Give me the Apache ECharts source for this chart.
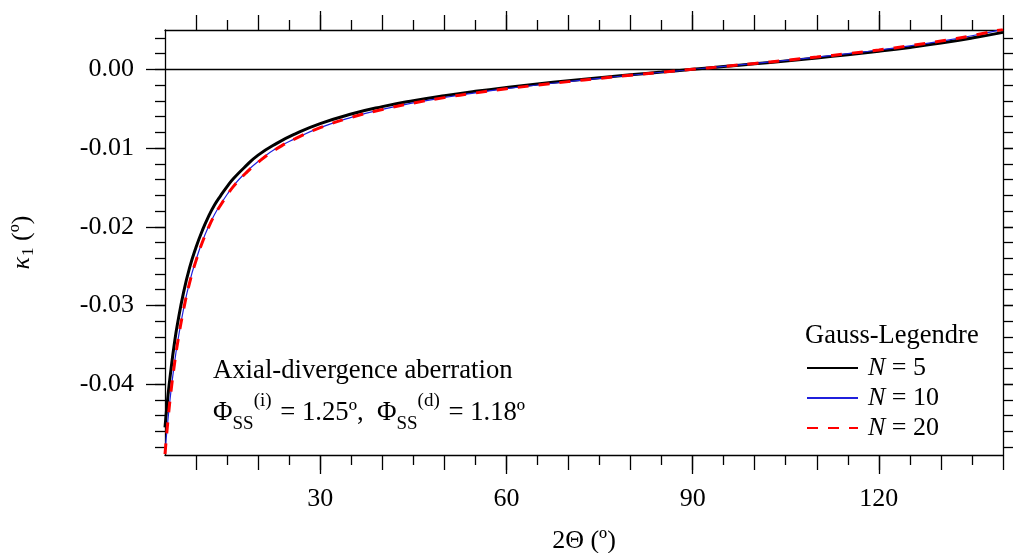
<!DOCTYPE html>
<html>
<head>
<meta charset="utf-8">
<script src="https://cdn.jsdelivr.net/npm/echarts@6/dist/echarts.min.js"></script>
<style>html,body{margin:0;padding:0;background:#fff}#c{width:1013px;height:553px}</style>
</head>
<body>
<div id="c"></div>
<script>
// Data
const twoTheta = [5,5.5,6,6.5,7,8,9,10,11,12,13,14,15,16,18,20,23,26,30,35,40,45,50,55,60,65,70,75,80,85,90,95,100,105,110,115,120,125,130,135,140];
const kappaN5  = [-0.0455,-0.0413,-0.0379,-0.0349,-0.0324,-0.0283,-0.0251,-0.0226,-0.0205,-0.0187,-0.0172,-0.0160,-0.0149,-0.0139,-0.0123,-0.0109,-0.0094,-0.0082,-0.00690,-0.00568,-0.00474,-0.00398,-0.00334,-0.00279,-0.00230,-0.00186,-0.00145,-0.00107,-0.00070,-0.00035,0,0.00035,0.00070,0.00107,0.00145,0.00186,0.00230,0.00279,0.00334,0.00398,0.00470];
const kappaN10 = [-0.0487,-0.0443,-0.0406,-0.0375,-0.0348,-0.0304,-0.0269,-0.0242,-0.0219,-0.0200,-0.0184,-0.0171,-0.0159,-0.0148,-0.0131,-0.0117,-0.0100,-0.0088,-0.00740,-0.00610,-0.00509,-0.00427,-0.00358,-0.00299,-0.00246,-0.00199,-0.00155,-0.00114,-0.00075,-0.00037,0,0.00037,0.00075,0.00114,0.00155,0.00199,0.00246,0.00299,0.00358,0.00427,0.00508];
const kappaN20 = [-0.0489,-0.0444,-0.0407,-0.0376,-0.0349,-0.0305,-0.0270,-0.0243,-0.0220,-0.0201,-0.0185,-0.0172,-0.0160,-0.0149,-0.0132,-0.0118,-0.0101,-0.0088,-0.00741,-0.00611,-0.00510,-0.00428,-0.00359,-0.00300,-0.00247,-0.00200,-0.00156,-0.00115,-0.00075,-0.00037,0,0.00037,0.00075,0.00115,0.00156,0.00200,0.00247,0.00300,0.00359,0.00428,0.00510];
const seriesNames = ['N = 5','N = 10','N = 20'];
const xTickLabels = [30,60,90,120];
const yTickLabels = [0,-0.01,-0.02,-0.03,-0.04];
const xMin = 5, xMax = 140, yMin = -0.049, yMax = 0.005;

const FONT = '"Liberation Serif","Times New Roman",serif';
const FS = 26;

function range(a, b, step) { const r = []; for (let v = a; v <= b + 1e-9; v += step) r.push(Math.round(v * 1e6) / 1e6); return r; }
const xTens = range(10, 140, 10);
const xFives = range(15, 135, 10);
const yMinor = range(-0.048, 0.004, 0.002);

function xAx(pos, ticks, len, opts) {
  return Object.assign({
    type: 'value', position: pos, min: xMin, max: xMax,
    axisLine: { show: false, onZero: false },
    axisTick: { show: true, customValues: ticks, length: len, lineStyle: { color: '#000', width: 1.3 } },
    axisLabel: { show: false },
    splitLine: { show: false }
  }, opts || {});
}
function yAx(pos, ticks, len, opts) {
  return Object.assign({
    type: 'value', position: pos, min: yMin, max: yMax,
    axisLine: { show: false, onZero: false },
    axisTick: { show: true, customValues: ticks, length: len, lineStyle: { color: '#000', width: 1.3 } },
    axisLabel: { show: false },
    splitLine: { show: false }
  }, opts || {});
}
const mainLine = { show: true, onZero: false, lineStyle: { color: '#000', width: 1.3 } };

const chart = echarts.init(document.getElementById('c'), null, { renderer: 'canvas' });
const toPairs = (ys) => twoTheta.map((x, i) => [x, ys[i]]);

chart.setOption({
  animation: false,
  backgroundColor: '#fff',
  textStyle: { fontFamily: FONT },
  grid: { left: 165, right: 10, top: 30, bottom: 98, containLabel: false, outerBoundsMode: 'none' },
  xAxis: [
    xAx('bottom', xTens, 15, {
      axisLine: mainLine,
      axisLabel: { show: true, customValues: xTickLabels, color: '#000', fontFamily: FONT, fontSize: FS, margin: 31 },
      name: '2Θ (º)', nameLocation: 'middle', nameGap: 73,
      nameTextStyle: { color: '#000', fontFamily: FONT, fontSize: FS }
    }),
    xAx('bottom', xFives, 10),
    xAx('bottom', xTickLabels, 19),
    xAx('top', xTens, 15, { axisLine: mainLine }),
    xAx('top', xFives, 10),
    xAx('top', xTickLabels, 19)
  ],
  yAxis: [
    yAx('left', yMinor, 10, {
      axisLine: mainLine,
      axisLabel: { show: true, customValues: yTickLabels, color: '#000', fontFamily: FONT, fontSize: FS, margin: 31,
        formatter: (v) => (Math.abs(v) < 1e-12 ? 0 : v).toFixed(2) },
      name: '{it|κ}{sub|1}{n| (º)}', nameLocation: 'middle', nameGap: 128, nameRotate: 90,
      nameTextStyle: { color: '#000', fontFamily: FONT, fontSize: FS,
        rich: {
          it: { fontFamily: FONT, fontSize: FS, fontStyle: 'italic', color: '#000', verticalAlign: 'middle' },
          sub: { fontFamily: FONT, fontSize: 17, color: '#000', verticalAlign: 'bottom', padding: [12, 0, 0, 1] },
          n: { fontFamily: FONT, fontSize: FS, color: '#000', verticalAlign: 'middle' }
        } }
    }),
    yAx('left', yTickLabels, 19),
    yAx('right', yMinor, 10, { axisLine: mainLine }),
    yAx('right', yTickLabels, 19)
  ],
  legend: {
    show: true,
    orient: 'vertical', left: 806, top: 354, padding: 0,
    itemWidth: 51, itemHeight: 14, itemGap: 2,
    itemStyle: { opacity: 0 },
    data: seriesNames,
    formatter: (name) => '{i|N}{t|' + name.slice(1) + '}',
    textStyle: {
      color: '#000', fontFamily: FONT, fontSize: FS, lineHeight: 28,
      rich: {
        i: { fontFamily: FONT, fontSize: FS, fontStyle: 'italic', color: '#000', padding: [0, 0, 0, 5] },
        t: { fontFamily: FONT, fontSize: FS, color: '#000' }
      }
    }
  },
  graphic: [
    {
      type: 'text', left: 805, top: 323, silent: true,
      style: { text: 'Gauss-Legendre', fill: '#000', font: '26.5px ' + FONT }
    },
    {
      type: 'text', left: 213, top: 357, silent: true,
      style: {
        text: '{a|Axial-divergence aberration}\n{a|Φ}{sub|SS}{sup|(i)}{a| = 1.25º,  Φ}{sub|SS}{sup|(d)}{a| = 1.18º}',
        fill: '#000',
        rich: {
          a: { fontFamily: FONT, fontSize: 26.7, fill: '#000', lineHeight: 42, verticalAlign: 'middle' },
          sub: { fontFamily: FONT, fontSize: 19, fill: '#000', verticalAlign: 'bottom', lineHeight: 19 },
          sup: { fontFamily: FONT, fontSize: 19, fill: '#000', verticalAlign: 'top', lineHeight: 19, padding: [0, 2, 0, 0] }
        }
      }
    }
  ],
  series: [
    {
      name: seriesNames[0], type: 'line', xAxisIndex: 0, yAxisIndex: 0,
      data: toPairs(kappaN5), symbol: 'none', smooth: 0.5,
      lineStyle: { color: '#000', width: 3 }, itemStyle: { color: '#000' }, z: 3,
      markLine: {
        silent: true, symbol: 'none', label: { show: false },
        lineStyle: { color: '#000', width: 1.3, type: 'solid' },
        data: [{ yAxis: 0 }], animation: false
      }
    },
    {
      name: seriesNames[1], type: 'line', xAxisIndex: 0, yAxisIndex: 0,
      data: toPairs(kappaN10), symbol: 'none', smooth: 0.5,
      lineStyle: { color: '#1f1fdc', width: 1.2 }, itemStyle: { color: '#1f1fdc' }, z: 4
    },
    {
      name: seriesNames[2], type: 'line', xAxisIndex: 0, yAxisIndex: 0,
      data: toPairs(kappaN20), symbol: 'none', smooth: 0.5,
      lineStyle: { color: '#ff0000', width: 3, type: [11, 10] }, itemStyle: { color: '#ff0000' }, z: 5
    }
  ]
});
</script>
</body>
</html>
